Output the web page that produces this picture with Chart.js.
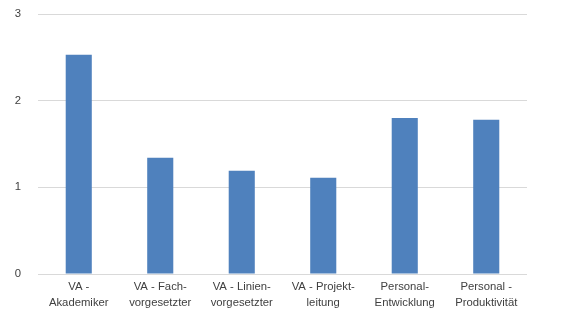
<!DOCTYPE html>
<html>
<head>
<meta charset="utf-8">
<script src="https://cdn.jsdelivr.net/npm/chart.js@4/dist/chart.umd.min.js"></script>
<style>
  html, body { margin: 0; padding: 0; background: #fff; }
  #wrap { width: 564px; height: 311px; }
</style>
</head>
<body>
<div id="wrap"><canvas id="myChart"></canvas></div>
<script>
'use strict';

// categories (two-line labels as in the original)
var categories = [
	["VA -", "Akademiker"],
	["VA - Fach-", "vorgesetzter"],
	["VA - Linien-", "vorgesetzter"],
	["VA - Projekt-", "leitung"],
	["Personal-", "Entwicklung"],
	["Personal -", "Produktivität"]
];
var values = [2.53, 1.34, 1.19, 1.11, 1.80, 1.78];
var yTicks = [0, 1, 2, 3];

var ctx = document.getElementById("myChart");
var chart = new Chart(ctx, {
	type: "bar",
	data: {
		labels: categories,
		datasets: [{
			data: values,
			backgroundColor: "#4f81bd",
			barPercentage: 0.32,
			categoryPercentage: 1
		}]
	},
	options: {
		responsive: true,
		maintainAspectRatio: false,
		animation: false,
		layout: { padding: { top: 14, right: 37, bottom: 0, left: 0 } },
		plugins: {
			legend: { display: false },
			tooltip: { enabled: false }
		},
		scales: {
			x: {
				grid: { display: false, drawTicks: false },
				border: { display: false },
				ticks: {
					color: "#404040",
					font: { family: "Liberation Sans, Arial, sans-serif", size: 11.3, lineHeight: 1.4 },
					padding: 5,
					maxRotation: 0,
					autoSkip: false
				},
				afterFit: function(scale) { scale.height = 37; }
			},
			y: {
				min: 0,
				max: 3,
				afterBuildTicks: function(scale) {
					scale.ticks = yTicks.map(function(v) { return { value: v }; });
				},
				grid: { color: "#d9d9d9", drawTicks: false },
				border: { display: false },
				ticks: {
					color: "#404040",
					font: { family: "Liberation Sans, Arial, sans-serif", size: 11.3 },
					padding: 17
				},
				afterFit: function(scale) {
					scale.width = 38;
					// tick padding would otherwise push the plot area down
					scale.paddingTop = 0;
					scale.paddingBottom = 0;
				}
			}
		}
	}
});
</script>
</body>
</html>
